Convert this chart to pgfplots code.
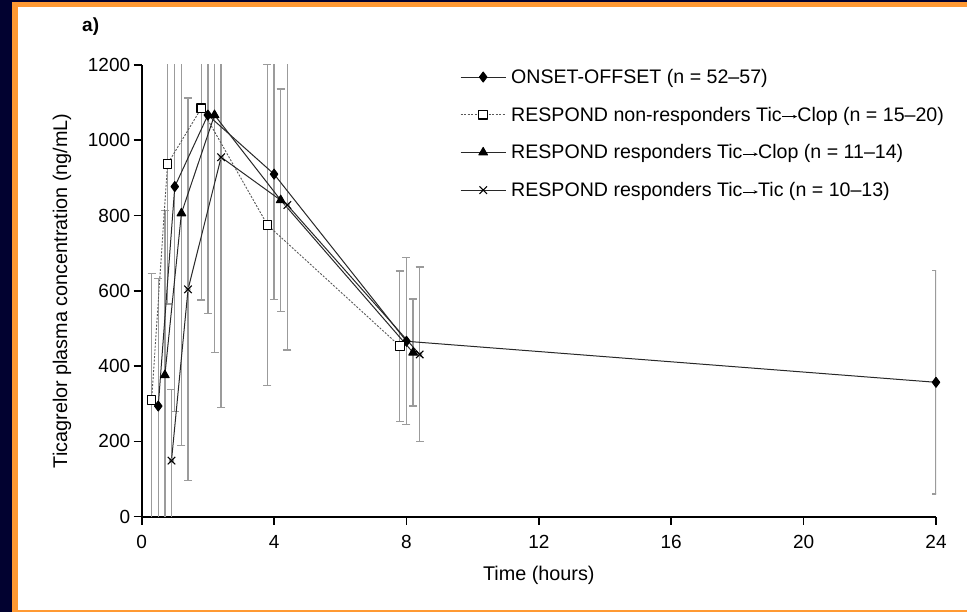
\documentclass[border=0pt]{standalone}
\usepackage{fontspec}
\setmainfont{Liberation Sans}
\usepackage{pgfplots}
\usepackage{pgfplotstable}
\usetikzlibrary{arrows.meta}
\pgfplotsset{compat=1.18}
\definecolor{navy}{RGB}{2,2,48}
\definecolor{frameorange}{RGB}{255,153,51}
\definecolor{linegray}{RGB}{40,40,40}
\definecolor{bargray}{RGB}{155,155,155}
\newcommand{\arr}{\tikz[baseline=0pt]\draw[line width=0.7pt,black,-{Stealth[length=4pt,width=3.5pt]}] (0pt,4.5pt)--(15pt,4.5pt);}

\pgfplotstableread{
x y e
0.5 294 339
1.0 877 598
2.0 1067 527
4.0 910 333
8.0 466 222
24 357 297
}\onset
\pgfplotstableread{
x y e
0.3 310 337
0.78 937 372
1.8 1085 509
3.8 775 427
7.8 453 200
}\nonresp
\pgfplotstableread{
x y e
0.7 376 438
1.2 806 616
2.2 1067 631
4.2 841 295
8.2 436 142
}\respclop
\pgfplotstableread{
x y e
0.9 149 188
1.4 604 508
2.4 955 665
4.4 828 385
8.4 431 232
}\resptic

\begin{document}
\begin{tikzpicture}
\fill[navy] (0,0) rectangle (967pt,612pt);
\fill[frameorange] (12pt,0) rectangle (967pt,610pt);
\fill[white] (17.7pt,2pt) rectangle (967pt,604.5pt);
\node[anchor=base west, font=\bfseries\fontsize{19}{22}\selectfont, inner sep=0] at (82pt,580pt) {a)};
\begin{axis}[
  at={(141.7pt,95.3pt)}, anchor=south west,
  scale only axis, width=794.3pt, height=451.7pt,
  xmin=0, xmax=24, ymin=0, ymax=1200,
  axis x line=bottom, axis y line=left,
  axis line style={-, line width=2pt, black},
  xtick={0,4,...,24}, ytick={0,200,...,1200},
  tick align=outside, major tick length=8pt,
  tick style={line width=1.6pt, black},
  ticklabel style={font=\fontsize{19}{22}\selectfont},
  xticklabel style={yshift=-7pt},
  /pgf/number format/assume math mode=true,
  /pgf/number format/1000 sep={},
  xlabel={Time (hours)},
  ylabel={Ticagrelor plasma concentration (ng/mL)},
  label style={font=\fontsize{19.8}{23}\selectfont},
  xlabel style={at={(axis description cs:0.5,-0.129)}, anchor=center},
  ylabel style={at={(axis description cs:-0.1003,0.5)}, anchor=center},
  legend style={at={(axis description cs:0.4007,0.9956)}, anchor=north west,
    draw=none, fill=none, font=\fontsize{19.6}{23}\selectfont,
    row sep=18pt, column sep=3pt, inner sep=0pt},
  legend cell align=left,
  legend image code/.code={\draw[mark repeat=2,mark phase=2,#1] plot coordinates {(0pt,0pt) (22.5pt,0pt) (45pt,0pt)};},
  every axis plot/.append style={line join=round},
]
% error bars (behind)
\pgfplotsset{ebar/.style={forget plot, bargray, line width=1.3pt, only marks, mark=none,
   error bars/.cd, y dir=both, y explicit,
   error bar style={bargray, line width=1.3pt},
   error mark options={bargray, line width=1.3pt, mark size=4pt, rotate=90}}}
\addplot[ebar] table[x=x, y=y, y error=e] {\onset};
\addplot[ebar] table[x=x, y=y, y error=e] {\nonresp};
\addplot[ebar] table[x=x, y=y, y error=e] {\respclop};
\addplot[ebar] table[x=x, y=y, y error=e] {\resptic};
% series
\addplot[linegray, line width=1pt, mark=diamond*, mark size=5pt, mark options={black, fill=black, solid}] table[x=x, y=y] {\onset};
\addlegendentry{ONSET-OFFSET (n = 52–57)}
\addplot[gray!70!black, line width=0.9pt, dash pattern=on 2pt off 1.5pt, mark=square*, mark size=4.3pt, mark options={black, fill=white, solid, line width=1.1pt}] table[x=x, y=y] {\nonresp};
\addlegendentry{RESPOND non-responders Tic\arr Clop (n = 15–20)}
\addplot[linegray, line width=1pt, mark=triangle*, mark size=5pt, mark options={black, fill=black, solid}] table[x=x, y=y] {\respclop};
\addlegendentry{RESPOND responders Tic\arr Clop (n = 11–14)}
\addplot[linegray, line width=1pt, mark=x, mark size=5.3pt, mark options={black, solid, line width=1.1pt}] table[x=x, y=y] {\resptic};
\addlegendentry{RESPOND responders Tic\arr Tic (n = 10–13)}
\end{axis}
\end{tikzpicture}
\end{document}
